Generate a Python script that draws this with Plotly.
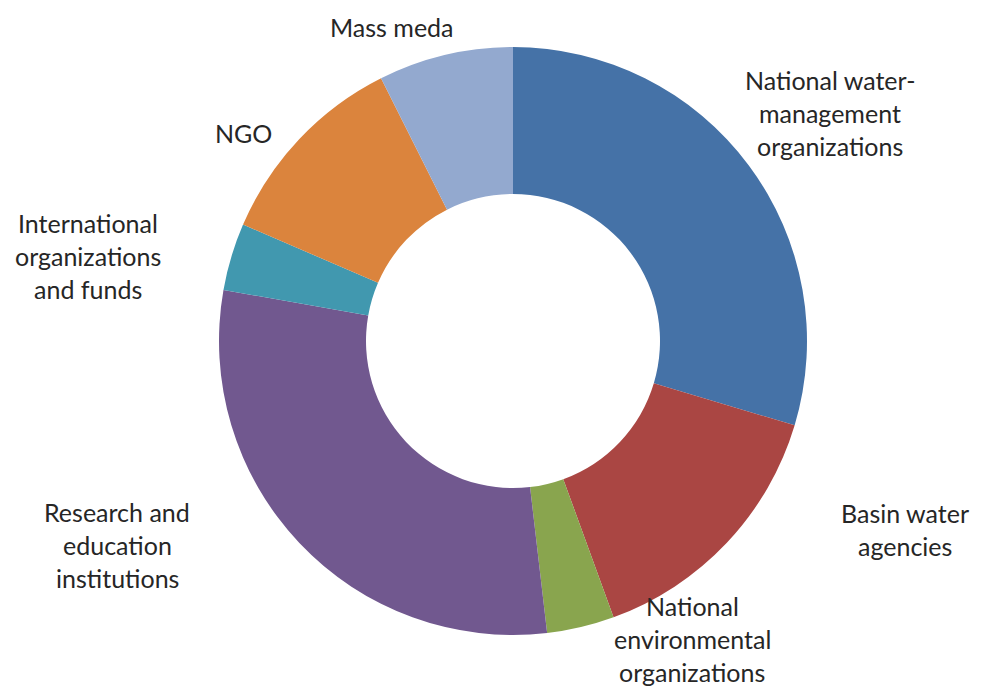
import plotly.graph_objects as go

categories = [
    "National water-management organizations",
    "Basin water agencies",
    "National environmental organizations",
    "Research and education institutions",
    "International organizations and funds",
    "NGO",
    "Mass meda",
]
values = [16, 8, 2, 16, 2, 6, 4]
colors = ["#4572A7", "#AA4643", "#89A54E", "#71588F", "#4198AF", "#DB843D", "#93A9CF"]

label_lines = [
    ["National water-", "management", "organizations"],
    ["Basin water", "agencies"],
    ["National", "environmental", "organizations"],
    ["Research and", "education", "institutions"],
    ["International", "organizations", "and funds"],
    ["NGO"],
    ["Mass meda"],
]
# label centre positions in pixels (x, y of block centre)
label_pos = [(830, 113), (905, 529), (692, 639), (117, 545), (88, 256), (243, 133), (392, 27)]

W, H = 983, 688
LINE = 33

fig = go.Figure(go.Pie(
    labels=categories,
    values=values,
    marker=dict(colors=colors, line=dict(width=0)),
    hole=0.5,
    sort=False,
    direction="clockwise",
    rotation=0,
    textinfo="none",
    hoverinfo="label+value",
    domain=dict(x=[(513 - 294) / W, (513 + 294) / W], y=[(H - 635) / H, (H - 47) / H]),
))

annotations = []
for lines, (cx, cy) in zip(label_lines, label_pos):
    n = len(lines)
    for i, t in enumerate(lines):
        y = cy + (i - (n - 1) / 2) * LINE
        annotations.append(dict(
            x=cx / W, y=1 - y / H, xref="paper", yref="paper",
            text=t, showarrow=False, xanchor="center", yanchor="middle",
            font=dict(family="Lato", size=25, color="#262626"),
        ))

fig.update_layout(
    width=W, height=H,
    margin=dict(l=0, r=0, t=0, b=0),
    paper_bgcolor="white", plot_bgcolor="white",
    showlegend=False,
    annotations=annotations,
)
fig.write_html(
    "out.html",
    config={"displayModeBar": False},
    post_script="document.body.style.margin='0';document.body.style.overflow='hidden';",
)
